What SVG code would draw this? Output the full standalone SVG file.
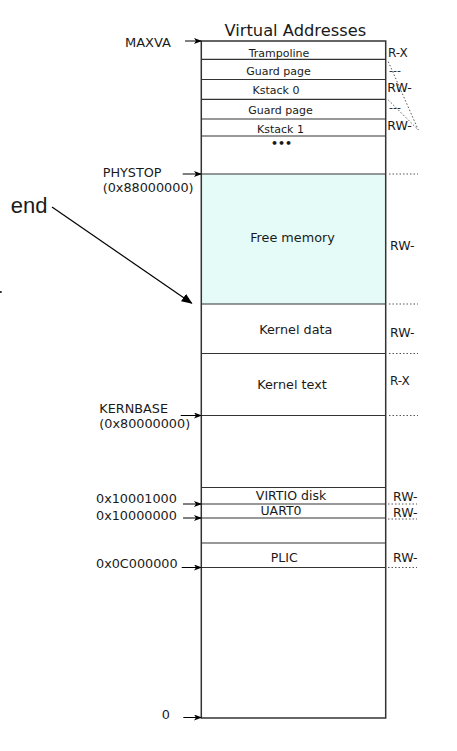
<svg xmlns="http://www.w3.org/2000/svg" width="457" height="751" viewBox="0 0 457 751">
<defs>
<marker id="ah" markerWidth="8" markerHeight="6" refX="7" refY="3" orient="auto" markerUnits="userSpaceOnUse">
<path d="M0,0 L8,3 L0,6 L2,3 Z" fill="#000"/>
</marker>
<marker id="ah2" markerWidth="11" markerHeight="9" refX="10" refY="4.5" orient="auto" markerUnits="userSpaceOnUse">
<path d="M0,0 L11,4.5 L0,9 Z" fill="#000"/>
</marker>
<style>
text{font-family:"DejaVu Sans",sans-serif;fill:#1a1a1a}
.s9{font-size:11px}
.s11{font-size:12.8px}
.p{font-size:12.5px}
.c{text-anchor:middle}
.row{stroke:#333;stroke-width:1.2;fill:none}
.dot{stroke:#555;stroke-width:1;stroke-dasharray:1.5 2;fill:none}
.arr{stroke:#000;stroke-width:1;fill:none;marker-end:url(#ah)}
</style>
</defs>
<rect width="457" height="751" fill="#fff"/>
<text x="295.3" y="35.7" class="c" font-size="16.3">Virtual Addresses</text>
<g id="memory">
<rect x="201" y="174" width="184.5" height="130" fill="#e5fbf8"/>
<rect x="201.3" y="41" width="184.4" height="677" fill="none" stroke="#333" stroke-width="1.5"/>
<line class="row" x1="201" y1="59.3" x2="385.5" y2="59.3"/>
<line class="row" x1="201" y1="79.5" x2="385.5" y2="79.5"/>
<line class="row" x1="201" y1="99.3" x2="385.5" y2="99.3"/>
<line class="row" x1="201" y1="119" x2="385.5" y2="119"/>
<line class="row" x1="201" y1="136" x2="385.5" y2="136"/>
<line class="row" x1="201" y1="174" x2="385.5" y2="174"/>
<line class="row" x1="201" y1="304" x2="385.5" y2="304"/>
<line class="row" x1="201" y1="353.5" x2="385.5" y2="353.5"/>
<line class="row" x1="201" y1="415.5" x2="385.5" y2="415.5"/>
<line class="row" x1="201" y1="487.5" x2="385.5" y2="487.5"/>
<line class="row" x1="201" y1="504" x2="385.5" y2="504"/>
<line class="row" x1="201" y1="518" x2="385.5" y2="518"/>
<line class="row" x1="201" y1="543" x2="385.5" y2="543"/>
<line class="row" x1="201" y1="567.5" x2="385.5" y2="567.5" stroke="#000"/>
</g>
<g id="labels-inside">
<text x="279" y="56.5" class="s9 c">Trampoline</text>
<text x="278.5" y="75" class="s9 c">Guard page</text>
<text x="276" y="94.3" class="s9 c">Kstack 0</text>
<text x="280.5" y="114" class="s9 c">Guard page</text>
<text x="280.5" y="132.7" class="s9 c">Kstack 1</text>
<text x="281.5" y="146.5" class="c" font-size="11" font-weight="bold">•••</text>
<text x="292.5" y="241.7" class="s11 c">Free memory</text>
<text x="295.8" y="334" class="s11 c">Kernel data</text>
<text x="292" y="389" class="s11 c">Kernel text</text>
<text x="291" y="500" class="p c">VIRTIO disk</text>
<text x="281" y="515" class="p c">UART0</text>
<text x="284.2" y="561.7" class="p c">PLIC</text>
</g>
<g id="perms">
<text x="388" y="56.7" font-size="12">R-X</text>
<text x="389" y="74" class="s9">---</text>
<text x="387.3" y="92.3" class="p">RW-</text>
<text x="389" y="111" class="s9">---</text>
<text x="387.3" y="130" class="p">RW-</text>
<text x="390" y="250" class="p">RW-</text>
<text x="390" y="337.3" class="p">RW-</text>
<text x="390" y="385" font-size="12">R-X</text>
<text x="393" y="500.7" class="p">RW-</text>
<text x="393" y="516.7" class="p">RW-</text>
<text x="393" y="561.7" class="p">RW-</text>
</g>
<g id="addresses">
<text x="125" y="47.3" font-size="13">MAXVA</text>
<text x="102.7" y="176.7" class="s11">PHYSTOP</text>
<text x="102.7" y="191.7" class="s11">(0x88000000)</text>
<text x="99.3" y="412.7" class="s11">KERNBASE</text>
<text x="99.3" y="427.7" class="s11">(0x80000000)</text>
<text x="96" y="503.3" class="s11">0x10001000</text>
<text x="96" y="520" class="s11">0x10000000</text>
<text x="96" y="568" class="s11">0x0C000000</text>
<text x="161.7" y="719.3" class="s11">0</text>
<text x="10.7" y="213.3" font-size="22" style="font-family:'Liberation Sans',Arial,sans-serif">end</text>
</g>
<g id="connectors">
<line class="arr" x1="185" y1="41" x2="201" y2="41"/>
<line class="arr" x1="182.7" y1="174" x2="201" y2="174"/>
<line class="arr" x1="180.7" y1="415.5" x2="201" y2="415.5"/>
<line class="arr" x1="183" y1="504" x2="201" y2="504"/>
<line class="arr" x1="183" y1="518" x2="201" y2="518"/>
<line class="arr" x1="181.7" y1="567.5" x2="201" y2="567.5"/>
<line class="arr" x1="183.3" y1="717.5" x2="201" y2="717.5"/>
<line x1="52" y1="207" x2="191.7" y2="303.3" stroke="#000" stroke-width="1.2" marker-end="url(#ah2)"/>
<line class="dot" x1="388.3" y1="61.7" x2="418.3" y2="130"/>
<line class="dot" x1="388.3" y1="100" x2="416.7" y2="128.3"/>
<line class="dot" x1="389" y1="174" x2="418" y2="174"/>
<line class="dot" x1="389" y1="304" x2="418" y2="304"/>
<line class="dot" x1="389" y1="353.5" x2="418" y2="353.5"/>
<line class="dot" x1="389" y1="415.5" x2="418" y2="415.5"/>
<line class="dot" x1="388" y1="504" x2="417" y2="504"/>
<line class="dot" x1="388" y1="519" x2="417" y2="519"/>
<line class="dot" x1="388" y1="567.5" x2="417" y2="567.5"/>
</g>
<rect x="0" y="291" width="1.7" height="2" fill="#333"/>
</svg>
